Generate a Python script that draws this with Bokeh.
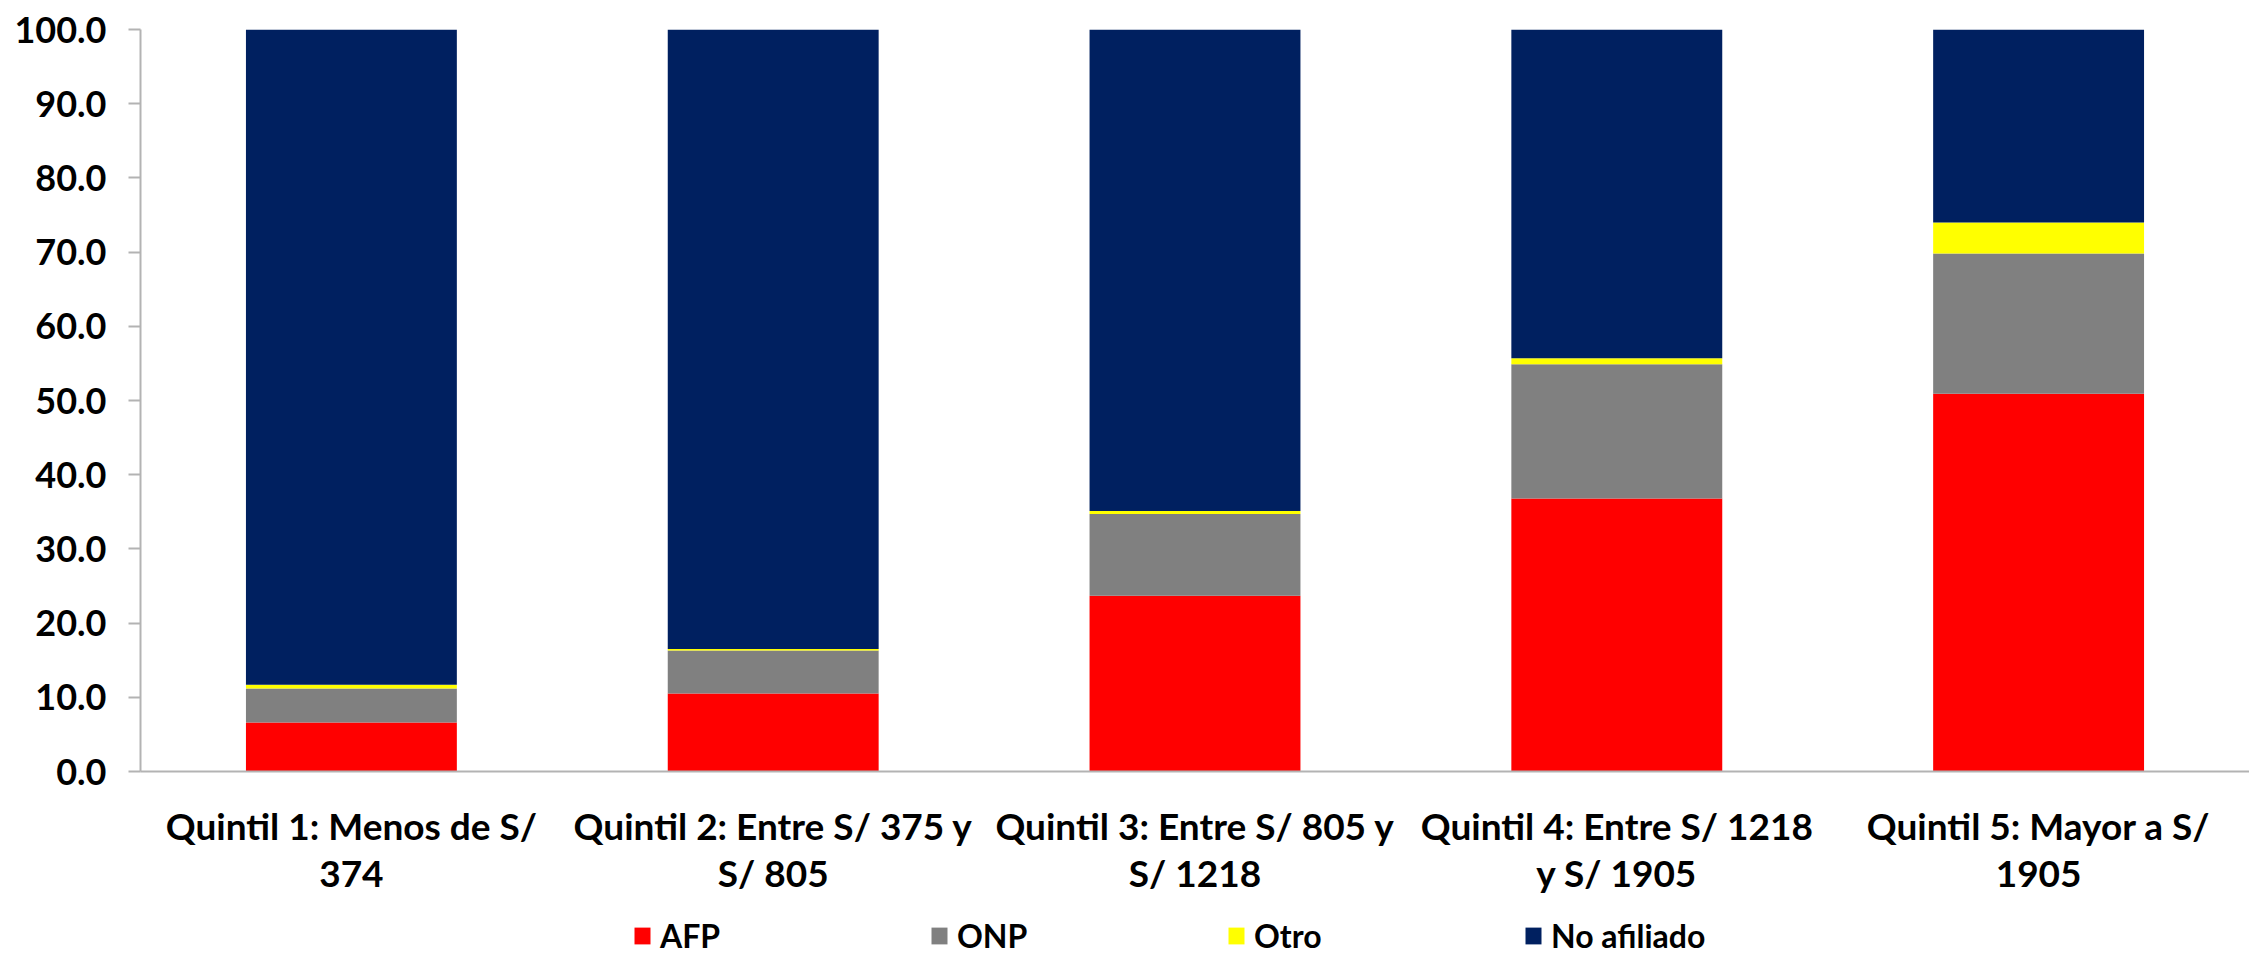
from bokeh.plotting import figure
from bokeh.layouts import column
from bokeh.models import FactorRange, Range1d, Legend, LegendItem, NumeralTickFormatter, FixedTicker, ColumnDataSource
from bokeh.embed import file_html
from bokeh.resources import INLINE

categories = [
    "Quintil 1: Menos de S/\n374",
    "Quintil 2: Entre S/ 375 y\nS/ 805",
    "Quintil 3: Entre S/ 805 y\nS/ 1218",
    "Quintil 4: Entre S/ 1218\ny S/ 1905",
    "Quintil 5: Mayor a S/\n1905",
]
afp = [6.6, 10.5, 23.7, 36.8, 50.9]
onp = [4.6, 5.8, 11.0, 18.1, 18.9]
otro = [0.5, 0.2, 0.4, 0.8, 4.2]
no_afiliado = [88.3, 83.5, 64.9, 44.3, 26.0]

series = ["AFP", "ONP", "Otro", "No afiliado"]
colors = ["#FF0000", "#808080", "#FFFF00", "#002060"]
y_ticks = [0, 10, 20, 30, 40, 50, 60, 70, 80, 90, 100]

FONT = "Lato"

data = dict(x=categories, AFP=afp, ONP=onp, Otro=otro)
data["No afiliado"] = no_afiliado
source = ColumnDataSource(data)
x_range = FactorRange(*categories, range_padding=0)

p = figure(
    width=2249, height=900,
    x_range=x_range,
    y_range=Range1d(0, 100),
    output_backend="svg", toolbar_location=None,
    min_border_left=140, min_border_right=0, min_border_top=29, min_border_bottom=129,
)
p.outline_line_color = None
p.grid.visible = False
p.vbar_stack(series, x="x", width=0.5, color=colors, source=source, line_color=None)

ya = p.yaxis[0]
ya.ticker = FixedTicker(ticks=y_ticks)
ya.formatter = NumeralTickFormatter(format="0.0")
ya.axis_line_color = "#B3B3B3"
ya.axis_line_width = 2
ya.major_tick_line_color = "#B3B3B3"
ya.major_tick_line_width = 2
ya.major_tick_out = 12
ya.major_tick_in = 0
ya.minor_tick_line_color = None
ya.major_label_standoff = 22
ya.major_label_text_font = FONT
ya.major_label_text_font_style = "bold"
ya.major_label_text_font_size = "36px"
ya.major_label_text_color = "#000000"

xa = p.xaxis[0]
xa.axis_line_color = "#B3B3B3"
xa.axis_line_width = 2
xa.major_tick_line_color = None
xa.major_tick_out = 0
xa.major_label_standoff = 31
xa.major_label_text_font = FONT
xa.major_label_text_font_style = "bold"
xa.major_label_text_font_size = "37px"
xa.major_label_text_color = "#000000"
xa.major_label_text_line_height = 1.05

# legend strip below the chart (same stacked bars, kept far outside its visible range)
lg = figure(
    width=2249, height=55, x_range=x_range, y_range=Range1d(1000, 1001),
    output_backend="svg", toolbar_location=None,
    x_axis_location=None, y_axis_location=None,
    min_border_left=140, min_border_right=0, min_border_top=0, min_border_bottom=0,
)
lg.outline_line_color = None
lg.grid.visible = False
lrs = lg.vbar_stack(series, x="x", width=0.5, color=colors, source=source, line_color=None)
items = [LegendItem(label=s, renderers=[r]) for s, r in zip(series, lrs)]
legend = Legend(
    items=items, orientation="horizontal", location=(492, 0),
    glyph_width=20, glyph_height=21, label_standoff=8, spacing=74, label_width=195,
    padding=0, margin=0, border_line_color=None, background_fill_alpha=0,
    label_text_font=FONT, label_text_font_style="bold", label_text_font_size="32px",
    label_text_color="#000000",
)
lg.add_layout(legend, "center")

layout = column(p, lg, spacing=0)
open("out.html", "w").write(file_html(layout, INLINE))
